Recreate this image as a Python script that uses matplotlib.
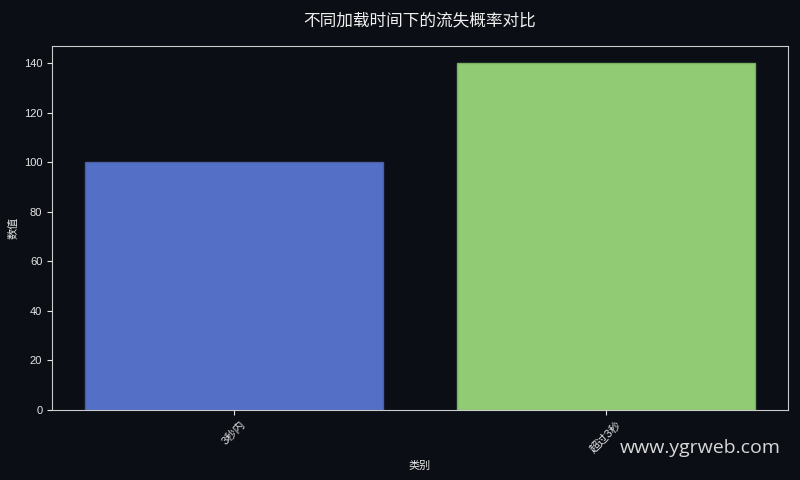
import matplotlib
matplotlib.use("Agg")
import matplotlib.pyplot as plt

categories = ["3秒内", "超过3秒"]
values = [100, 140]
colors = ["#5470c6", "#91cc75"]
edge_colors = ["#4a5f9e", "#7bae63"]

title = "不同加载时间下的流失概率对比"
xlabel = "类别"
ylabel = "数值"
watermark = "www.ygrweb.com"

plt.rcParams['font.family'] = ['Liberation Sans', 'Noto Sans CJK SC', 'DejaVu Sans']
bg = "#0b0e15"
fg = "#e6e6e6"

fig = plt.figure(figsize=(8, 4.8), dpi=100, facecolor=bg)
ax = fig.add_axes([0.065, 0.146, 0.92, 0.758])
ax.set_facecolor(bg)

x = list(range(len(categories)))
ax.bar(x, values, width=0.8, color=colors, edgecolor=edge_colors, linewidth=1)
ax.set_xticks(x)
ax.set_xticklabels(categories, rotation=45, fontsize=8, color=fg)
ax.tick_params(axis='y', labelsize=8, colors=fg)
ax.tick_params(axis='x', colors=fg)
for s in ax.spines.values():
    s.set_color("#cccccc")
ax.set_xlabel(xlabel, fontsize=8, color=fg)
ax.set_ylabel(ylabel, fontsize=8, color=fg)
ax.set_title(title, fontsize=12, color="#f0f0f0", pad=15,
             family=['Noto Sans CJK SC', 'DejaVu Sans'])

fig.text(0.976, 0.066, watermark, fontsize=14, color="#d8d8d8",
         ha='right', va='center', family=['Open Sans', 'DejaVu Sans'])

fig.savefig("out.png", dpi=100, facecolor=bg)
